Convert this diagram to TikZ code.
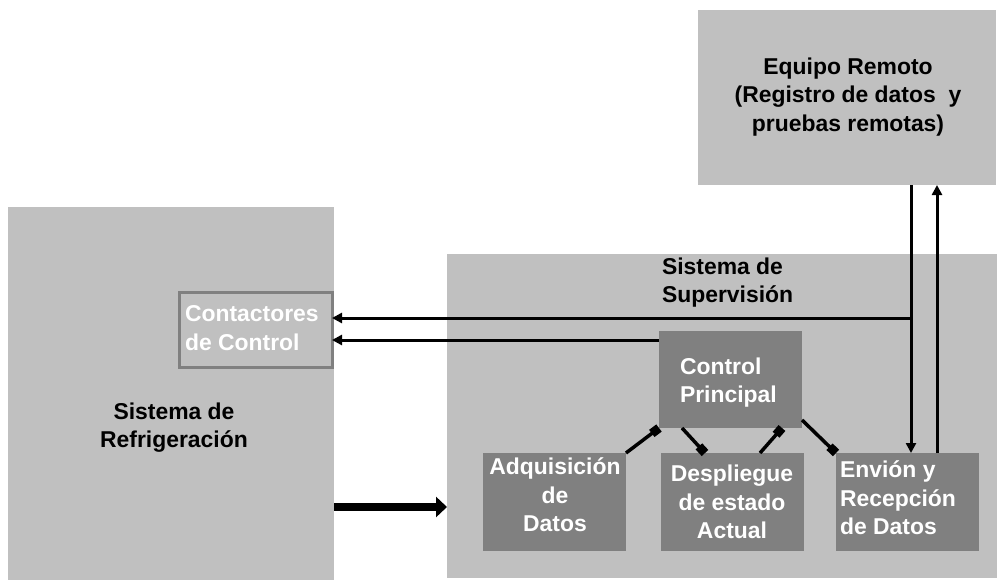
\documentclass[tikz,border=0pt]{standalone}
\usepackage{fontspec}
\setmainfont{Liberation Sans}
\usetikzlibrary{arrows.meta}
\definecolor{lightg}{HTML}{C0C0C0}
\definecolor{darkg}{HTML}{808080}
\begin{document}
\begin{tikzpicture}[x=1bp,y=-1bp,
  boxbase/.style={rectangle,inner sep=0,outer sep=0,anchor=north west},
  lbox/.style={boxbase,fill=lightg,draw=none},
  dbox/.style={boxbase,fill=darkg,draw=none},
  btext/.style={inner sep=0,outer sep=0,font=\bfseries\fontsize{23}{28.5}\selectfont,text=black},
  wtext/.style={btext,text=white},
  conn/.style={line width=3bp,-{Triangle[length=10bp,width=10bp]}},
  sqconn/.style={line width=3.5bp,-{Square[length=9bp,width=9bp]}},
  bigarrow/.style={line width=8bp,-{Triangle[length=11bp,width=20bp]}}
]
\useasboundingbox (0,0) rectangle (997,580);
\fill[white] (0,0) rectangle (997,580);

% big boxes
\node[lbox,minimum width=298bp,minimum height=175bp] (remote) at (698,10) {};
\node[lbox,minimum width=326bp,minimum height=373bp] (refrig) at (8,207) {};
\node[lbox,minimum width=550bp,minimum height=324bp] (superv) at (447,254) {};

% small boxes
\node[lbox,draw=darkg,line width=3bp,minimum width=153bp,minimum height=75bp] (cont) at (179,292) {};
\node[dbox,minimum width=143bp,minimum height=97bp] (ctrl) at (659,331) {};
\node[dbox,minimum width=143bp,minimum height=98bp] (adq) at (483,453) {};
\node[dbox,minimum width=143bp,minimum height=98bp] (desp) at (661,453) {};
\node[dbox,minimum width=143bp,minimum height=98bp] (env) at (836,453) {};

% connectors
\coordinate (j) at (911,318);
\coordinate (u) at (937,318);
\coordinate (c2) at (659,340);
\coordinate (t) at (0,507);
\draw[conn] (remote.south -| j) -- (env.north -| j);
\draw[conn] (env.north -| u) -- (remote.south -| u);
\draw[conn] (j) -- (j -| cont.east);
\draw[conn] (c2) -- (c2 -| cont.east);
\draw[bigarrow] (refrig.east |- t) -- (superv.west |- t);

\draw[sqconn] (adq.north east) -- (ctrl.south west);
\draw[sqconn] ([xshift=23bp]ctrl.south west) -- ([xshift=44bp]desp.north west);
\draw[sqconn] ([xshift=99bp]desp.north west) -- ([xshift=123bp]ctrl.south west);
\draw[sqconn] ([yshift=8bp]ctrl.south east) -- (env.north west);

% texts
\node[btext,align=center,anchor=north] (tremote) at (848,58) {Equipo Remoto\\(Registro de datos~ y\\pruebas remotas)};
\node[btext,align=left,anchor=north west] (tsuperv) at (662,258) {Sistema de\\Supervisión};
\node[btext,align=center,anchor=north] (trefrig) at (174,403) {Sistema de\\Refrigeración};
\node[wtext,align=left,anchor=north west,font=\bfseries\fontsize{23}{30}\selectfont] (tcont) at (185,305) {Contactores\\de Control};
\node[wtext,align=left,anchor=north west] (tctrl) at (680,358) {Control\\Principal};
\node[wtext,align=center,anchor=north] (tadq) at (555,458) {Adquisición\\de\\Datos};
\node[wtext,align=center,anchor=north] (tdesp) at (732,465) {Despliegue\\de estado\\Actual};
\node[wtext,align=left,anchor=north west] (tenv) at (840,461) {Envión y\\Recepción\\de Datos};
\end{tikzpicture}
\end{document}
